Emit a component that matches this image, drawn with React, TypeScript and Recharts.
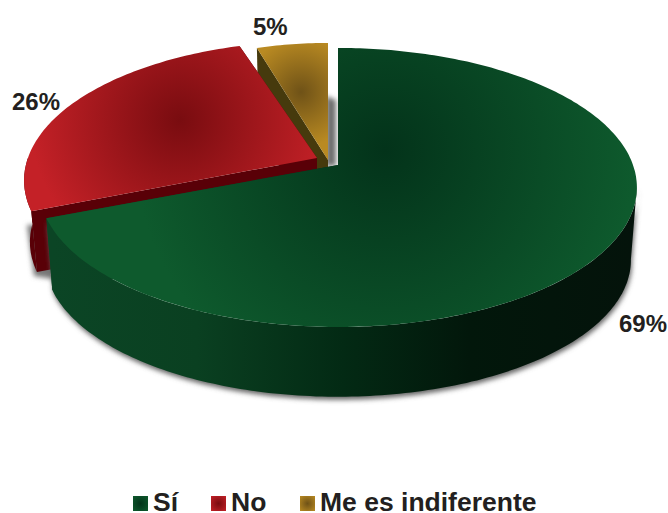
import React from 'react';
import { PieChart, Pie, Legend } from 'recharts';

const categories = ['Sí', 'No', 'Me es indiferente'];
const values = [69, 26, 5];

// drawn back to front, counter clockwise from the top
const drawOrder = [2, 1, 0];
const pieData = drawOrder.map((i) => ({ name: categories[i], value: values[i], idx: i }));

const APEX = { x: 338, y: 165 };
const RADIUS = 295;
const SQUASH = 135.9 / 295;
const TILT = 0.161;
const BOTTOM_SCALE = 0.98;

const sliceStyles = [
  { dx: 0, dy: 0, sx: 1, depth: 73, rim: '#0e5a2d', core: '#03331a', gx: 385, gy: 150, gr: 250, wall: 'url(#wall0)' },
  { dx: -21, dy: -7, sx: 0.98, depth: 62, rim: '#c42127', core: '#790c10', gx: 180, gy: 120, gr: 150, wall: '#590007' },
  { dx: -10, dy: -5, sx: 0.9, depth: 60, rim: '#b98a22', core: '#6f5217', gx: 301, gy: 92, gr: 55, wall: '#463a0d' },
];

const labelSpots = [
  { x: 667, y: 332, anchor: 'end' },
  { x: 12, y: 110, anchor: 'start' },
  { x: 253, y: 35, anchor: 'start' },
];

const legendSpots = [
  { box: 133, text: 153 },
  { box: 211, text: 231 },
  { box: 300, text: 320 },
];

const TEXT = '#231f20';
const FONT = '"Liberation Sans", Arial, sans-serif';

const project = (angle: number, st: any, bottom = false) => {
  const rad = (angle * Math.PI) / 180;
  const u = Math.cos(rad);
  const v = Math.sin(rad);
  const w = 1 + TILT * v;
  const s = bottom ? BOTTOM_SCALE : 1;
  return {
    x: APEX.x + st.dx + (st.sx * s * RADIUS * u) / w,
    y: APEX.y + st.dy + (bottom ? st.depth : 0) - (s * RADIUS * SQUASH * v) / w,
  };
};

const arcPoints = (a0: number, a1: number, st: any, bottom = false) => {
  const pts = [];
  const n = Math.max(2, Math.ceil(Math.abs(a1 - a0)));
  for (let i = 0; i <= n; i++) pts.push(project(a0 + ((a1 - a0) * i) / n, st, bottom));
  return pts;
};

const toPath = (pts: { x: number; y: number }[]) =>
  'M' + pts.map((p) => `${p.x.toFixed(1)},${p.y.toFixed(1)}`).join('L') + 'Z';

const Slice = (props: any) => {
  const { startAngle, endAngle, payload, idx } = props;
  const i = payload?.idx ?? idx;
  const st = sliceStyles[i];
  const apexTop = { x: APEX.x + st.dx, y: APEX.y + st.dy };
  const apexBottom = { x: apexTop.x, y: apexTop.y + st.depth };

  const radialWall = (a: number) =>
    toPath([project(a, st), apexTop, apexBottom, project(a, st, true)]);

  // only the front part of the rim can be seen
  const lo = Math.max(startAngle, 180);
  const hi = Math.min(endAngle, 351);
  const rim = hi > lo ? toPath([...arcPoints(lo, hi, st), ...arcPoints(hi, lo, st, true)]) : null;

  const top = toPath([apexTop, ...arcPoints(startAngle, endAngle, st)]);

  return (
    <g>
      <defs>
        <radialGradient id={`face${i}`} gradientUnits="userSpaceOnUse" cx={st.gx} cy={st.gy} r={st.gr}>
          <stop offset="0" stopColor={st.core} />
          <stop offset="1" stopColor={st.rim} />
        </radialGradient>
        <linearGradient id="wall0" gradientUnits="userSpaceOnUse" x1="52" y1="0" x2="632" y2="0">
          <stop offset="0" stopColor="#0b4525" />
          <stop offset="0.25" stopColor="#0a4021" />
          <stop offset="0.5" stopColor="#032a14" />
          <stop offset="0.72" stopColor="#02170b" />
          <stop offset="1" stopColor="#04130b" />
        </linearGradient>
        <filter id="soft" x="-20%" y="-20%" width="140%" height="140%">
          <feGaussianBlur stdDeviation="2.5" />
        </filter>
      </defs>
      {i === 2 && <path d="M326,96L336,100L336,166L326,166Z" fill="#6e6e6e" filter="url(#soft)" />}
      {i === 1 && <path d="M27,225L34,276L60,280L60,225Z" fill="#777" filter="url(#soft)" />}
      {rim && i === 0 && (
        <path d={rim} fill="#666" filter="url(#soft)" transform="translate(1,3)" />
      )}
      <path d={radialWall(startAngle)} fill={st.wall} />
      <path d={radialWall(endAngle)} fill={st.wall} />
      {rim && <path d={rim} fill={st.wall} />}
      <path d={top} fill={`url(#face${i})`} />
    </g>
  );
};

const renderLabel = (props: any) => {
  const i = props.payload?.idx ?? props.idx;
  const spot = labelSpots[i];
  return (
    <text
      x={spot.x}
      y={spot.y}
      textAnchor={spot.anchor as any}
      fill={TEXT}
      fontFamily={FONT}
      fontWeight="bold"
      fontSize={24}
    >
      {values[i]}%
    </text>
  );
};

const renderLegend = () => (
  <div style={{ position: 'relative', width: 668, height: 33, fontFamily: FONT, fontWeight: 'bold', fontSize: 26.5, color: TEXT }}>
    {categories.map((c, i) => (
      <React.Fragment key={c}>
        <span
          style={{
            position: 'absolute',
            left: legendSpots[i].box,
            top: 16,
            width: 15,
            height: 15,
            background: `radial-gradient(circle, ${sliceStyles[i].core}, ${sliceStyles[i].rim})`,
          }}
        />
        <span style={{ position: 'absolute', left: legendSpots[i].text, top: 12, lineHeight: '20px', whiteSpace: 'nowrap' }}>
          {c}
        </span>
      </React.Fragment>
    ))}
  </div>
);

export default function App() {
  return (
    <div style={{ position: 'absolute', left: 0, top: 0, width: 668, height: 513, background: '#fff' }}>
      <PieChart width={668} height={513} margin={{ top: 0, right: 0, bottom: 0, left: 0 }}>
        <Pie
          data={pieData}
          dataKey="value"
          nameKey="name"
          cx={APEX.x}
          cy={APEX.y}
          outerRadius={RADIUS}
          startAngle={90}
          endAngle={450}
          paddingAngle={0}
          stroke="none"
          shape={Slice}
          label={renderLabel}
          labelLine={false}
          isAnimationActive={false}
        />
        <Legend
          content={renderLegend}
          wrapperStyle={{ position: 'absolute', left: 0, top: 480, width: 668, height: 33 }}
        />
      </PieChart>
    </div>
  );
}
